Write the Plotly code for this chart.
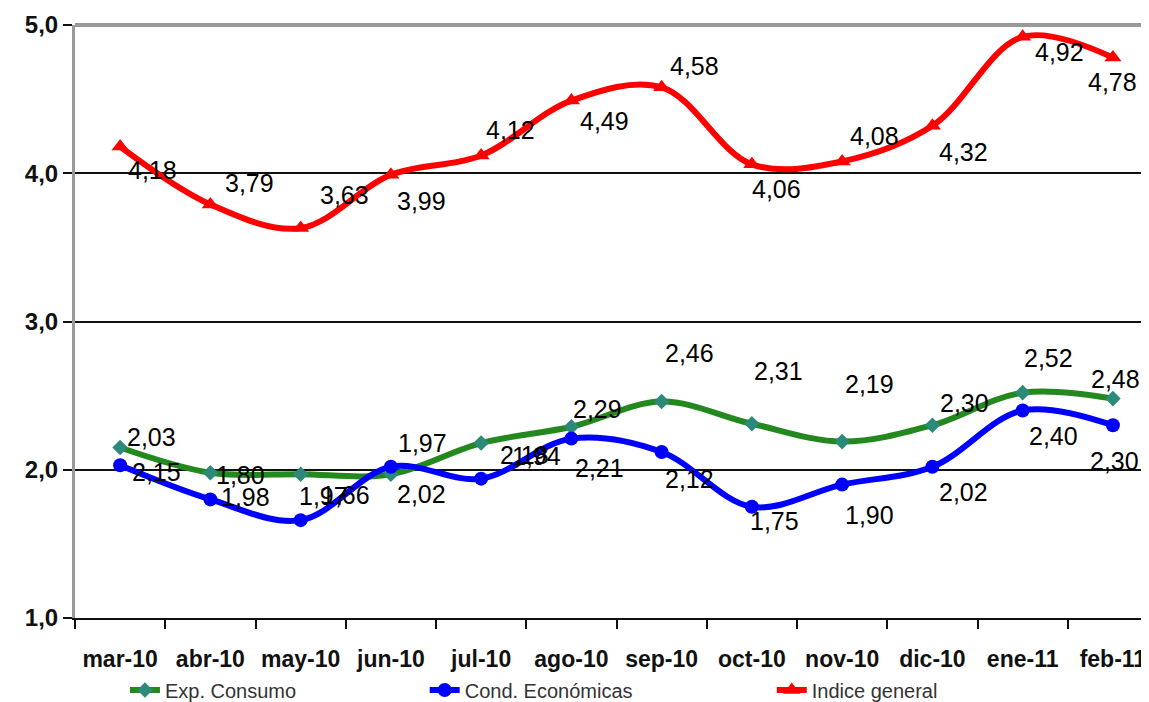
import plotly.graph_objects as go

months = ["mar-10", "abr-10", "may-10", "jun-10", "jul-10", "ago-10",
          "sep-10", "oct-10", "nov-10", "dic-10", "ene-11", "feb-11"]
exp_consumo = [2.15, 1.98, 1.97, 1.97, 2.18, 2.29, 2.46, 2.31, 2.19, 2.30, 2.52, 2.48]
cond_economicas = [2.03, 1.80, 1.66, 2.02, 1.94, 2.21, 2.12, 1.75, 1.90, 2.02, 2.40, 2.30]
indice_general = [4.18, 3.79, 3.63, 3.99, 4.12, 4.49, 4.58, 4.06, 4.08, 4.32, 4.92, 4.78]
y_ticks = [1.0, 2.0, 3.0, 4.0, 5.0]

# label offsets in screen pixels (dx right, dy down) - styling only
off_exp = [(36, 24), (35, 24), (23, 22), (32, -31), (43, 12), (26, -18),
           (28, -49), (27, -53), (27, -58), (32, -22), (26, -35), (3, -20)]
off_cond = [(31, -28), (30, -24), (45, -25), (31, 27), (55, -23), (28, 29),
            (28, 27), (23, 14), (27, 30), (31, 25), (31, 26), (2, 36)]
off_ind = [(32, 23), (39, -21), (44, -33), (31, 26), (29, -25), (33, 20),
           (33, -21), (25, 25), (32, -25), (31, 26), (37, 15), (0, 24)]

FONT = "Liberation Sans, Arial, sans-serif"

fig = go.Figure()

series = [
    ("Exp. Consumo", exp_consumo, "#23891f", dict(symbol="diamond", size=12, color="#2b8a78"), "legend", off_exp),
    ("Cond. Económicas", cond_economicas, "#0000ff", dict(symbol="circle", size=14, color="#0000ff"), "legend2", off_cond),
    ("Indice general", indice_general, "#ff0000", dict(symbol="triangle-up", size=15, color="#ff0000"), "legend3", off_ind),
]

annotations = []
for name, vals, col, mk, leg, offs in series:
    fig.add_trace(go.Scatter(
        x=months, y=vals, name=name, mode="lines+markers",
        line=dict(color=col, width=6, shape="spline", smoothing=1),
        marker=mk, legend=leg, cliponaxis=False,
    ))
    for m, v, (dx, dy) in zip(months, vals, offs):
        annotations.append(dict(
            x=m, y=v, xref="x", yref="y", text=f"{v:.2f}".replace(".", ","),
            showarrow=False, xshift=dx, yshift=-dy,
            font=dict(family=FONT, size=25, color="#000000"),
        ))

legend_common = dict(orientation="h", yanchor="middle", xanchor="left",
                     xref="container", yref="container",
                     bgcolor="rgba(0,0,0,0)",
                     font=dict(family=FONT, size=20, color="#333333"))

fig.update_layout(
    width=1141, height=694,
    margin=dict(l=67, r=0, t=17, b=84, autoexpand=False),
    plot_bgcolor="white", paper_bgcolor="white",
    separators=",.",
    showlegend=True,
    legend=dict(x=0.1025, y=0.0173, **legend_common),
    legend2=dict(x=0.3652, y=0.0173, **legend_common),
    legend3=dict(x=0.6694, y=0.0173, **legend_common),
    xaxis=dict(
        type="category", range=[-0.5, 11.4], tickson="boundaries",
        ticks="outside", ticklen=9, tickwidth=2, tickcolor="#111111",
        showline=True, linecolor="#111111", linewidth=2,
        showgrid=False, ticklabelstandoff=19,
        tickfont=dict(family=FONT, size=23, color="#111111", weight="bold"),
    ),
    yaxis=dict(
        range=[1, 5], tickvals=y_ticks, tickformat=".1f",
        ticks="outside", ticklen=9, tickwidth=2, tickcolor="#111111",
        showline=True, linecolor="#9a9a9a", linewidth=3,
        showgrid=True, gridcolor="#111111", gridwidth=2,
        zeroline=False, ticklabelstandoff=0,
        tickfont=dict(family=FONT, size=24, color="#111111", weight="bold"),
    ),
    shapes=[dict(type="line", xref="paper", yref="paper", x0=0, x1=1, y0=1, y1=1,
                 line=dict(color="#9a9a9a", width=4), layer="above")],
    annotations=annotations,
)

fig.write_html("out.html")
